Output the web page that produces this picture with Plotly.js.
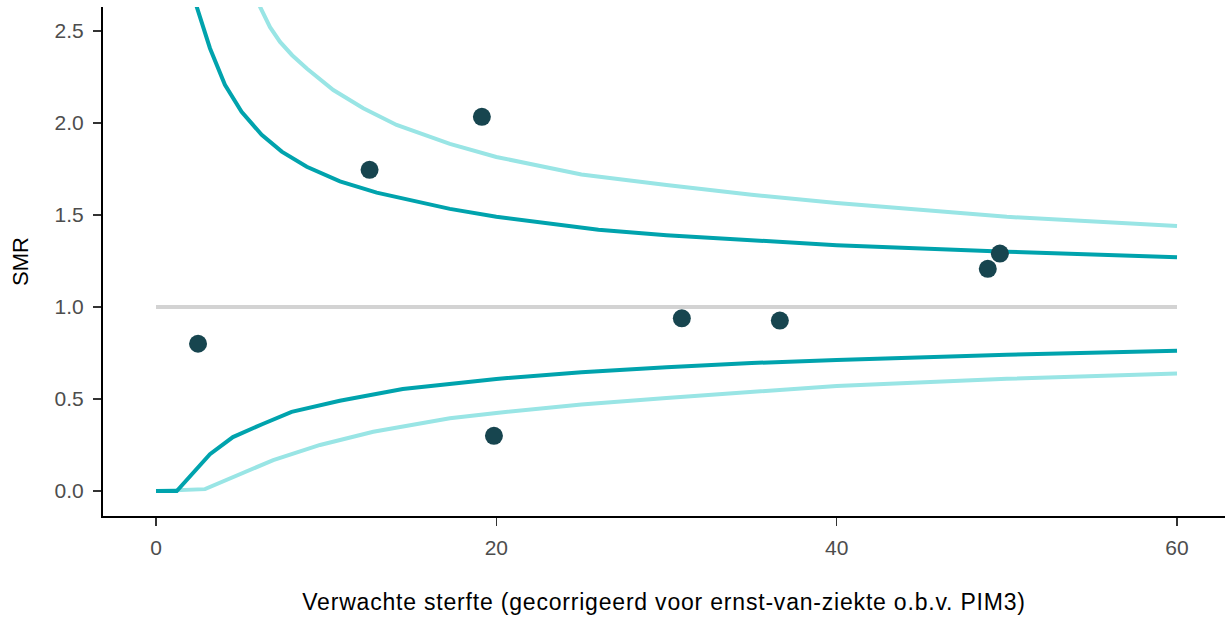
<!DOCTYPE html>
<html>
<head>
<meta charset="utf-8">
<script src="https://cdn.plot.ly/plotly-3.0.1.min.js"></script>
<style>
  html, body { margin: 0; padding: 0; background: #fff; }
  #chart { width: 1225px; height: 622px; }
  #chart .xtitle { letter-spacing: 0.8px; }
</style>
</head>
<body>
<div id="chart"></div>
<script>
// Observed SMR per unit against expected mortality
const expected = [2.47, 12.55, 19.15, 19.86, 30.9, 36.66, 48.88, 49.59];
const smr      = [0.80, 1.745, 2.033, 0.30, 0.938, 0.926, 1.207, 1.29];

// 95% control limits
const upper95X = [1.5, 1.8, 2.39, 3.17, 4.05, 5.03, 6.21, 7.39, 8.86, 10.81, 12.97, 17.27, 20, 26, 30, 35, 40, 50, 60];
const upper95Y = [3.0, 2.80, 2.632, 2.406, 2.207, 2.061, 1.935, 1.844, 1.762, 1.682, 1.621, 1.533, 1.49, 1.42, 1.39, 1.36, 1.335, 1.30, 1.27];
const lower95X = [0, 1.22, 3.17, 4.52, 6.27, 7.97, 10.8, 14.5, 20, 25, 30, 35, 40, 50, 60];
const lower95Y = [0, 0.0, 0.20, 0.293, 0.364, 0.43, 0.49, 0.554, 0.609, 0.645, 0.672, 0.695, 0.712, 0.74, 0.762];

// 99.8% control limits
const upper998X = [5.5, 6.11, 6.7, 7.29, 8.0, 8.86, 10.42, 12.18, 14.14, 17.27, 20, 25, 30, 35, 40, 50, 60];
const upper998Y = [2.78, 2.632, 2.52, 2.44, 2.368, 2.296, 2.179, 2.08, 1.989, 1.886, 1.815, 1.72, 1.663, 1.61, 1.565, 1.49, 1.44];
const lower998X = [0, 2.88, 6.89, 9.64, 12.77, 17.27, 20, 25, 30, 35, 40, 50, 60];
const lower998Y = [0, 0.01, 0.168, 0.25, 0.322, 0.395, 0.424, 0.47, 0.505, 0.54, 0.571, 0.61, 0.638];

// Target line
const targetX = [0, 60];
const targetY = [1, 1];

// Axis ticks
const xTicks = [0, 20, 40, 60];
const xTickText = ['0', '20', '40', '60'];
const yTicks = [0, 0.5, 1, 1.5, 2, 2.5];
const yTickText = ['0.0', '0.5', '1.0', '1.5', '2.0', '2.5'];

const dark = '#00a3ad';
const light = '#99e5e5';

const traces = [
  { x: targetX, y: targetY, mode: 'lines', line: { color: '#d3d3d3', width: 4 }, hoverinfo: 'skip' },
  { x: upper998X, y: upper998Y, mode: 'lines', line: { color: light, width: 4 } },
  { x: lower998X, y: lower998Y, mode: 'lines', line: { color: light, width: 4 } },
  { x: upper95X, y: upper95Y, mode: 'lines', line: { color: dark, width: 4 } },
  { x: lower95X, y: lower95Y, mode: 'lines', line: { color: dark, width: 4 } },
  { x: expected, y: smr, mode: 'markers', marker: { color: '#17454f', size: 18 } }
];

const fam = 'Liberation Sans, Arial, Helvetica, sans-serif';
const tickFont = { family: fam, size: 21, color: '#4d4d4d' };

const layout = {
  width: 1225,
  height: 622,
  margin: { l: 103, r: 0, t: 7, b: 106 },
  paper_bgcolor: '#fff',
  plot_bgcolor: '#fff',
  showlegend: false,
  font: { family: fam, color: '#000' },
  xaxis: {
    range: [-3.115, 62.82],
    tickvals: xTicks,
    ticktext: xTickText,
    showgrid: false,
    zeroline: false,
    showline: true,
    linecolor: '#000',
    linewidth: 2,
    ticks: 'outside',
    ticklen: 8,
    tickwidth: 1.5,
    tickcolor: '#333',
    ticklabelstandoff: 4,
    tickfont: tickFont,
    title: { text: 'Verwachte sterfte (gecorrigeerd voor ernst-van-ziekte o.b.v. PIM3)', font: { family: fam, size: 23, color: '#000' }, standoff: 36 }
  },
  yaxis: {
    range: [-0.136, 2.630],
    tickvals: yTicks,
    ticktext: yTickText,
    showgrid: false,
    zeroline: false,
    showline: true,
    linecolor: '#000',
    linewidth: 2,
    ticks: 'outside',
    ticklen: 8,
    tickwidth: 1.5,
    tickcolor: '#333',
    ticklabelstandoff: 5,
    tickfont: tickFont,
    title: { text: 'SMR', font: { family: fam, size: 22, color: '#000' }, standoff: 20 }
  }
};

Plotly.newPlot('chart', traces, layout, { displayModeBar: false, staticPlot: true });
</script>
</body>
</html>
